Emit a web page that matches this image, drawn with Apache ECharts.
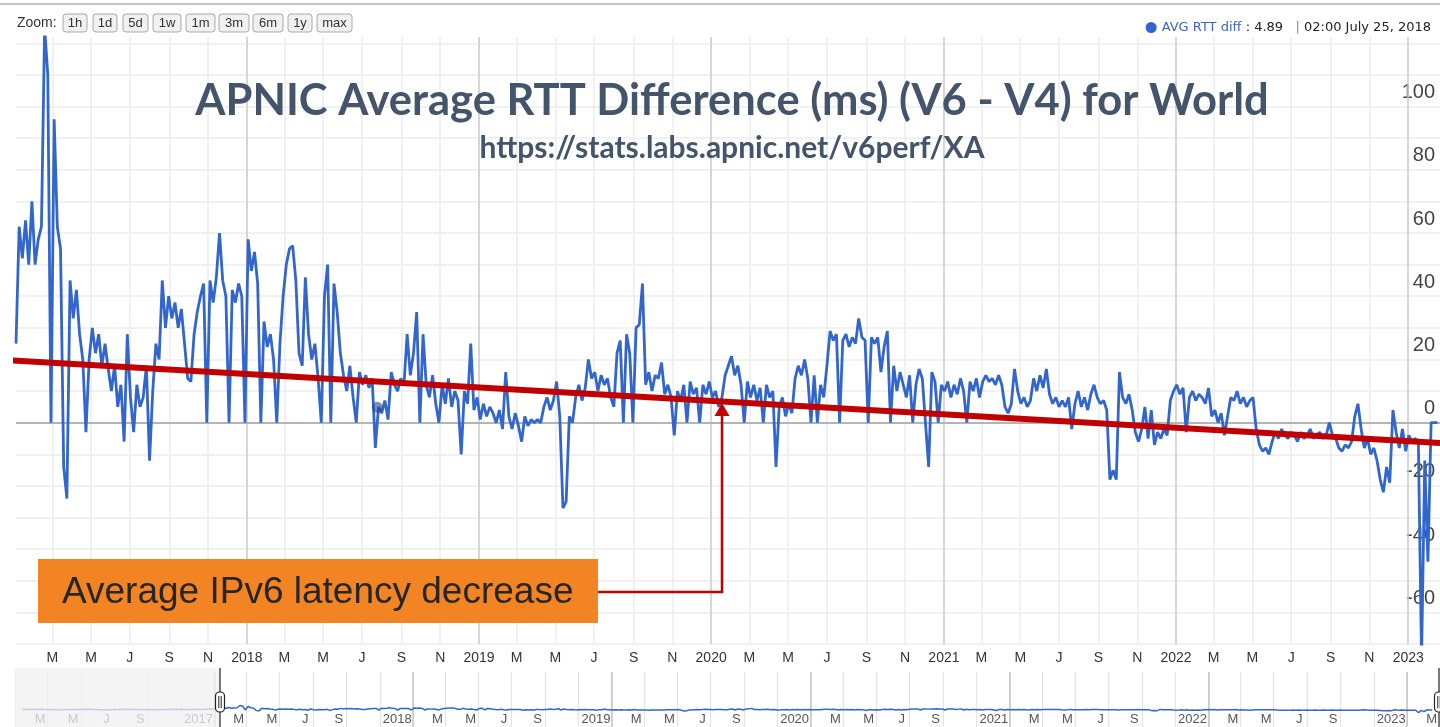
<!DOCTYPE html>
<html>
<head>
<meta charset="utf-8">
<title>APNIC Average RTT Difference (ms) (V6 - V4) for World</title>
<script src="https://cdn.jsdelivr.net/npm/echarts@6/dist/echarts.min.js"></script>
<style>
  html, body { margin: 0; padding: 0; background: #fff; }
  #chart { width: 1440px; height: 727px; }
</style>
</head>
<body>
<div id="chart"></div>
<script>
// samples, one every stepDays from startDate
const startDate = '2017-01-03'
const stepDays = 5
const rtt = [
  25, 62, 52, 64, 50, 70, 50, 58, 62, 125,
  110, 0, 96, 62, 55, -14, -24, 45, 33, 42,
  28, 20, -3, 20, 30, 22, 28, 18, 25, 17,
  10, 18, 5, 12, -6, 28, 8, -3, 12, 5,
  8, 18, -12, 10, 25, 20, 45, 30, 40, 33,
  38, 30, 36, 25, 14, 13, 28, 35, 40, 44,
  0, 45, 38, 46, 60, 45, 40, 0, 42, 38,
  44, 40, 0, 58, 48, 54, 44, 0, 32, 24,
  28, 20, 0, 25, 40, 50, 55, 56, 45, 22,
  18, 46, 28, 20, 25, 14, 0, 40, 50, 0,
  44, 35, 22, 15, 10, 18, 8, 0, 16, 12,
  15, 11, 14, -8, 5, 3, 7, 1, 16, 12,
  10, 14, 12, 28, 15, 22, 35, 0, 28, 12,
  8, 15, 6, 0, 12, 6, 14, 5, 10, 7,
  -10, 10, 6, 25, 4, 8, 1, 6, 2, 5,
  3, 0, 4, -2, 16, 2, -2, 3, -1, -6,
  2, -1, 1, 0, 1, 0, 5, 8, 4, 7,
  13, 2, -27, -25, 2, 0, 8, 12, 7, 11,
  20, 14, 16, 10, 15, 12, 14, 8, 5, 22,
  26, 0, 28, 22, 0, 30, 31, 44, 12, 16,
  10, 15, 14, 19, 9, 12, 8, -4, 10, 7,
  12, 0, 13, 9, 11, 0, 12, 9, 13, 8,
  10, 5, 8, 15, 18, 21, 15, 18, 12, 0,
  13, 8, 12, 7, 11, 0, 12, 8, 10, -14,
  5, 8, 2, 6, 3, 14, 18, 15, 20, 14,
  0, 15, 0, 12, 8, 18, 29, 26, 28, 0,
  26, 28, 24, 27, 25, 33, 27, 26, 0, 27,
  25, 27, 16, 24, 29, 0, 18, 10, 16, 12,
  8, 15, 0, 12, 17, 14, 0, -14, 16, 13,
  0, 12, 10, 13, 8, 12, 9, 14, 10, 0,
  13, 10, 14, 8, 13, 15, 13, 14, 12, 15,
  12, 5, 3, 6, 17, 10, 6, 8, 5, 7,
  14, 10, 15, 11, 17, 9, 6, 8, 5, 7,
  5, 8, -2, 6, 10, 5, 8, 4, 9, 12,
  8, 6, 7, 4, -18, -15, -18, 16, 8, 6,
  9, 4, -3, -6, -2, 5, -5, 4, -7, -3,
  -5, -2, -4, 7, 10, 12, 9, 11, -3, 8,
  10, 7, 9, 8, 6, 11, 2, 4, 0, 3,
  -4, 2, 8, 7, 10, 6, 8, 5, 7, 8,
  -2, -7, -9, -8, -10, -6, -3, -5, -2, -4,
  -5, -3, -4, -6, -3, -5, -4, -2, -5, -4,
  -3, -5, -4, 0, -4, -5, -8, -9, -7, -8,
  -6, 2, 6, -2, -8, -5, -10, -8, -12, -18,
  -22, -14, -19, 4, -3, -8, -2, -9, -4, -6,
  -5, -6, -75, -12, -44, 0, 0, 0
]

// the faint 2016 part that only shows in the navigator
const navDates2016 = ['2016-01-15', '2016-02-15', '2016-03-15', '2016-04-15', '2016-05-15', '2016-06-15',
  '2016-07-15', '2016-08-15', '2016-09-15', '2016-10-15', '2016-11-15', '2016-12-15']
const navValues2016 = [15, 20, 5, 12, 18, 3, 20, 15, 6, 18, 14, 20]

const trendDates = ['2016-12-17', '2023-02-20']
const trendValues = [19.8, -6.4]

const hoverDate = '2018-07-25'
const hoverValue = 4.89
const hoverText = '02:00 July 25, 2018'

const monthLetters = ['J', 'F', 'M', 'A', 'M', 'J', 'J', 'A', 'S', 'O', 'N', 'D']
const tickMonths = [0, 2, 4, 6, 8, 10]
const yearLines = ['2017-01-01', '2018-01-01', '2019-01-01', '2020-01-01', '2021-01-01', '2022-01-01', '2023-01-01']

const zoomButtons = ['1h', '1d', '5d', '1w', '1m', '3m', '6m', '1y', 'max']

const DAY = 86400000
const ts = s => {
  const [y, m, d] = s.split('-').map(Number)
  return new Date(y, m - 1, d).getTime()
}

const rttPoints = rtt.map((v, i) => [ts(startDate) + i * stepDays * DAY, v])
const navPoints = navDates2016.map((d, i) => [ts(d), navValues2016[i]]).concat(rttPoints)
const trendPoints = trendDates.map((d, i) => [ts(d), trendValues[i]])

const monthTicks = (y0, y1) => {
  const out = []
  for (let y = y0; y <= y1; y++) {
    tickMonths.forEach(m => out.push(new Date(y, m, 1).getTime()))
  }
  return out
}
const tickLabel = v => {
  const d = new Date(v)
  return d.getMonth() === 0 ? String(d.getFullYear()) : monthLetters[d.getMonth()]
}

// navigator labels sit just left of their gridline, so place them a bit earlier
const navLabelTicks = monthTicks(2016, 2023)
  .filter(t => new Date(t).getMonth() !== 10 && t > ts('2016-02-01'))
  .map(t => t - (new Date(t).getMonth() === 0 ? 29 : 14) * DAY)
const navLabel = v => {
  const d = new Date(v)
  return tickLabel(new Date(d.getFullYear(), d.getMonth() + 1, 1).getTime())
}

const plainLine = color => ({
  symbol: 'none',
  silent: true,
  animation: false,
  label: { show: false },
  emphasis: { disabled: true },
  lineStyle: { type: 'solid', color, width: 1.5 },
})

// zoom button row, left edges and widths in px
const btnX = [63, 93, 123, 153, 186, 219, 253, 288, 317]
const btnW = [24, 24, 25, 28, 29, 30, 30, 24, 35]

const graphics = [
  { type: 'line', shape: { x1: 0, y1: 4, x2: 1440, y2: 4 }, style: { stroke: '#c4c4c4', lineWidth: 2 } },
  {
    type: 'text', x: 17, y: 23,
    style: { text: 'Zoom:', font: '14px "Liberation Sans", Arial', fill: '#333', verticalAlign: 'middle' },
  },
]
zoomButtons.forEach((b, i) => {
  graphics.push({
    type: 'rect',
    shape: { x: btnX[i], y: 14, width: btnW[i], height: 18, r: 3 },
    style: { fill: '#f1f1f1', stroke: '#a8a8a8', lineWidth: 1 },
  })
  graphics.push({
    type: 'text', x: btnX[i] + btnW[i] / 2, y: 23.5,
    style: { text: b, font: '13px "Liberation Sans", Arial', fill: '#333', align: 'center', verticalAlign: 'middle' },
  })
})

// navigator shading and handles
graphics.push({
  type: 'rect', z: 50,
  shape: { x: 15, y: 668, width: 205, height: 59 },
  style: { fill: 'rgba(240,240,240,0.75)' },
})
;[220, 1439].forEach(hx => {
  graphics.push({ type: 'line', z: 51, shape: { x1: hx, y1: 668, x2: hx, y2: 727 }, style: { stroke: '#222', lineWidth: 1.2 } })
  graphics.push({
    type: 'rect', z: 52,
    shape: { x: hx - 4.5, y: 692, width: 9, height: 20, r: 4 },
    style: { fill: '#fff', stroke: '#222', lineWidth: 1.2 },
  })
  graphics.push({ type: 'line', z: 53, shape: { x1: hx - 1.2, y1: 696, x2: hx - 1.2, y2: 708 }, style: { stroke: '#222', lineWidth: 1 } })
  graphics.push({ type: 'line', z: 53, shape: { x1: hx + 1.2, y1: 696, x2: hx + 1.2, y2: 708 }, style: { stroke: '#222', lineWidth: 1 } })
})

// annotation
graphics.push({
  type: 'polyline', z: 60,
  shape: { points: [[598, 592], [722, 592], [722, 414]] },
  style: { stroke: '#c00000', lineWidth: 2.5, fill: null },
})
graphics.push({
  type: 'polygon', z: 61,
  shape: { points: [[722, 403], [714.5, 416], [729.5, 416]] },
  style: { fill: '#c00000' },
})
graphics.push({
  type: 'rect', z: 62,
  shape: { x: 38, y: 559, width: 560, height: 64 },
  style: { fill: '#f38423' },
})
graphics.push({
  type: 'text', z: 63, x: 62, y: 593,
  style: { text: 'Average IPv6 latency decrease', font: '37px "Liberation Sans", Arial', fill: '#262626', verticalAlign: 'middle' },
})

const chart = echarts.init(document.getElementById('chart'))

chart.setOption({
  animation: false,
  backgroundColor: '#fff',
  title: [
    {
      text: 'APNIC Average RTT Difference (ms) (V6 - V4) for World',
      left: 727, top: 74, textAlign: 'center',
      textStyle: { fontFamily: 'Lato', fontWeight: 'bold', fontSize: 43.5, color: '#44546a' },
    },
    {
      text: 'https://stats.labs.apnic.net/v6perf/XA',
      left: 727, top: 128, textAlign: 'center',
      textStyle: { fontFamily: 'Lato', fontWeight: 'bold', fontSize: 30, color: '#44546a' },
    },
  ],
  legend: {
    data: ['AVG RTT diff'],
    right: 4, top: 16,
    icon: 'circle', itemWidth: 11, itemHeight: 11,
    formatter: n => `{n|${n}}{v| : ${hoverValue}}{s|   | }{d|${hoverText}}`,
    textStyle: {
      fontFamily: 'DejaVu Sans', fontSize: 13,
      rich: {
        n: { fontFamily: 'DejaVu Sans', fontSize: 13, color: '#3d64c8' },
        v: { fontFamily: 'DejaVu Sans', fontSize: 13, color: '#222' },
        s: { fontFamily: 'DejaVu Sans', fontSize: 13, color: '#888' },
        d: { fontFamily: 'DejaVu Sans', fontSize: 13, color: '#222' },
      },
    },
  },
  grid: [
    { left: 16, right: 0, top: 37, bottom: 83 },
    { left: 15, right: 0, top: 672, bottom: 0 },
  ],
  xAxis: [
    {
      type: 'value', gridIndex: 0,
      min: ts('2017-01-03'), max: ts('2023-02-20'),
      axisLine: { show: false },
      axisTick: { show: false, customValues: monthTicks(2017, 2023) },
      axisLabel: {
        customValues: monthTicks(2017, 2023),
        formatter: tickLabel,
        color: '#333', fontSize: 14, fontFamily: 'Liberation Sans', margin: 7,
      },
      splitLine: { show: true, lineStyle: { color: '#ececec', width: 1.5 } },
    },
    {
      type: 'value', gridIndex: 1,
      min: ts('2016-01-01'), max: ts('2023-02-15'),
      axisLine: { show: false },
      axisTick: { show: false, customValues: monthTicks(2016, 2023) },
      axisLabel: {
        inside: true,
        customValues: navLabelTicks,
        formatter: navLabel,
        color: '#555', fontSize: 13, fontFamily: 'Liberation Sans', margin: 1,
      },
      splitLine: { show: true, lineStyle: { color: '#e4e4e4', width: 1.2 } },
    },
  ],
  yAxis: [
    {
      type: 'value', gridIndex: 0, position: 'right',
      min: -70, max: 122, interval: 10,
      axisLine: { show: false },
      axisTick: { show: false },
      axisLabel: {
        inside: true, margin: 5,
        verticalAlign: 'bottom', padding: [0, 0, 4, 0],
        color: '#444', fontSize: 20, fontFamily: 'Liberation Sans',
        formatter: v => (v % 20 === 0 && v < 110 && v > -70 ? String(v) : ''),
      },
      splitLine: { show: true, showMaxLine: false, lineStyle: { color: '#ececec', width: 1.5 } },
    },
    {
      type: 'value', gridIndex: 1, min: -470, max: 1050,
      show: false, splitLine: { show: false },
    },
  ],
  series: [
    {
      name: 'AVG RTT diff',
      type: 'line', xAxisIndex: 0, yAxisIndex: 0,
      data: rttPoints,
      showSymbol: false, symbol: 'none',
      itemStyle: { color: '#3366cc' },
      lineStyle: { color: '#3366cc', width: 2.8 },
      z: 3,
      markLine: Object.assign(plainLine('#cccccc'), {
        z: 1,
        data: yearLines.slice(1).map(d => ({ xAxis: ts(d) }))
          .concat([{ yAxis: 0, lineStyle: { color: '#b4b4b4', width: 2 } }]),
      }),
    },
    {
      name: 'trend',
      type: 'line', xAxisIndex: 0, yAxisIndex: 0,
      data: trendPoints,
      symbol: 'none', clip: false, silent: true,
      lineStyle: { color: '#c00000', width: 6 },
      z: 6,
    },
    {
      name: 'hover',
      type: 'scatter', xAxisIndex: 0, yAxisIndex: 0,
      data: [[ts(hoverDate), hoverValue]],
      symbolSize: 11, silent: true,
      itemStyle: { color: 'rgba(45,70,140,0.75)' },
      z: 5,
    },
    {
      name: 'navigator',
      type: 'line', xAxisIndex: 1, yAxisIndex: 1,
      data: navPoints,
      symbol: 'none', silent: true,
      lineStyle: { color: '#3366cc', width: 1.5 },
      z: 3,
      markLine: Object.assign(plainLine('#c4c4c4'), {
        z: 1,
        data: yearLines.map(d => ({ xAxis: ts(d) })),
      }),
    },
  ],
  graphic: graphics,
})

window.addEventListener('resize', () => chart.resize())
</script>
</body>
</html>
